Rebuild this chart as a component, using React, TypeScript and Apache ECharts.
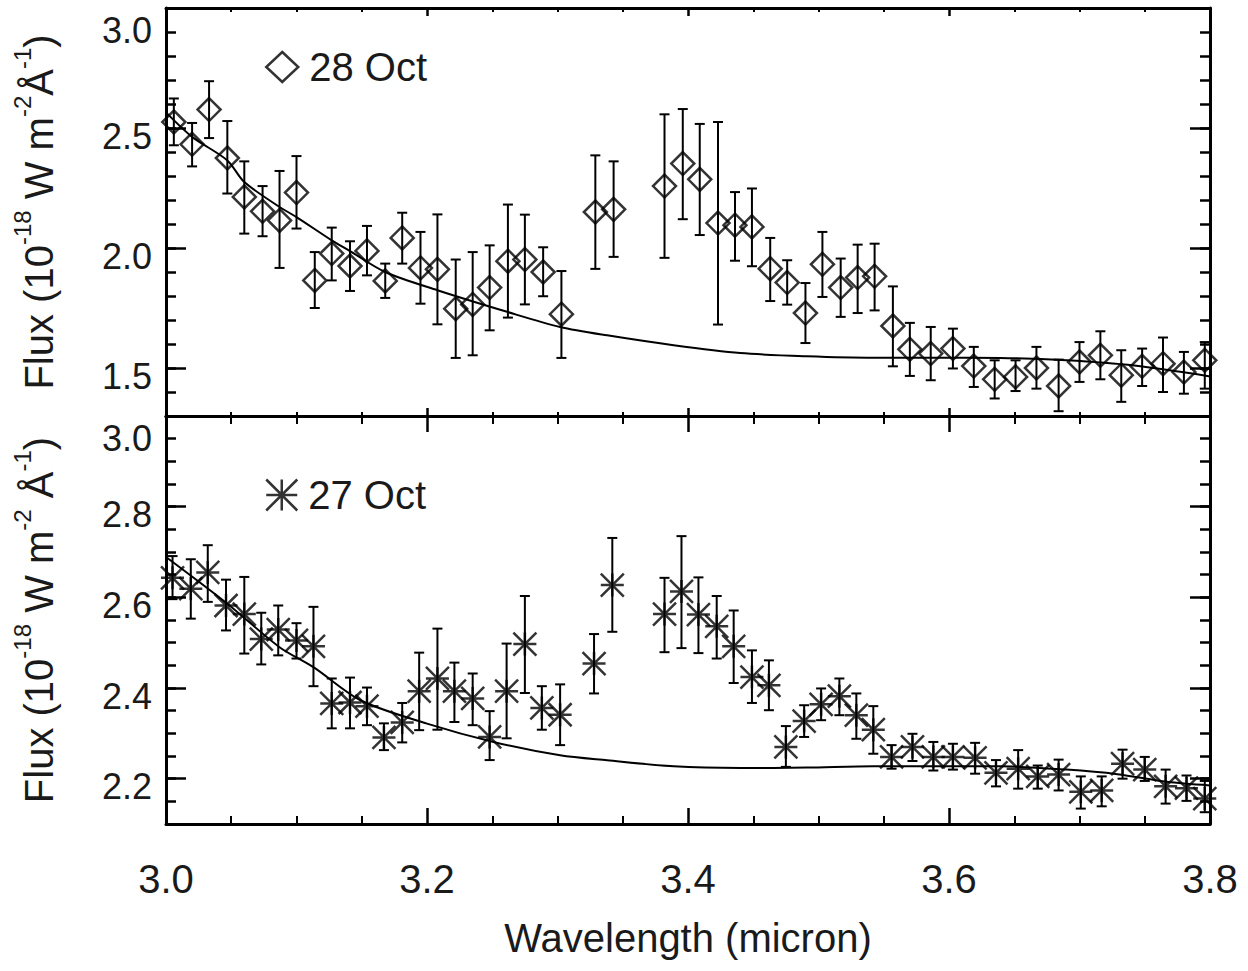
import React, { useEffect, useRef } from "react";
import * as echarts from "echarts";

// ---------- data: 28 Oct (top panel) ----------
const wl28 = [3.006, 3.020, 3.033, 3.047, 3.060, 3.074, 3.087, 3.100, 3.114, 3.127, 3.141, 3.154, 3.168, 3.181, 3.195, 3.208, 3.222, 3.235, 3.248, 3.262, 3.275, 3.289, 3.303, 3.329, 3.343, 3.382, 3.396, 3.409, 3.423, 3.436, 3.449, 3.463, 3.476, 3.490, 3.503, 3.517, 3.530, 3.543, 3.557, 3.570, 3.586, 3.603, 3.619, 3.635, 3.651, 3.667, 3.684, 3.700, 3.716, 3.732, 3.748, 3.764, 3.780, 3.796];
const flux28 = [2.525, 2.432, 2.577, 2.375, 2.213, 2.153, 2.115, 2.231, 1.865, 1.977, 1.925, 1.988, 1.863, 2.042, 1.917, 1.911, 1.747, 1.765, 1.835, 1.945, 1.952, 1.900, 1.724, 2.150, 2.161, 2.258, 2.352, 2.286, 2.104, 2.095, 2.088, 1.914, 1.856, 1.729, 1.932, 1.835, 1.877, 1.882, 1.675, 1.578, 1.560, 1.581, 1.508, 1.453, 1.463, 1.500, 1.425, 1.525, 1.553, 1.470, 1.507, 1.518, 1.483, 1.532];
const lo28 = [2.428, 2.340, 2.458, 2.227, 2.060, 2.049, 1.917, 2.081, 1.750, 1.865, 1.821, 1.886, 1.792, 1.935, 1.768, 1.682, 1.542, 1.553, 1.657, 1.710, 1.765, 1.799, 1.542, 1.913, 1.963, 1.959, 2.120, 2.054, 1.681, 1.947, 1.924, 1.779, 1.764, 1.604, 1.796, 1.713, 1.729, 1.740, 1.507, 1.467, 1.449, 1.498, 1.421, 1.373, 1.404, 1.414, 1.320, 1.442, 1.453, 1.359, 1.425, 1.400, 1.393, 1.414];
const hi28 = [2.623, 2.521, 2.695, 2.529, 2.361, 2.258, 2.321, 2.383, 1.983, 2.085, 2.028, 2.092, 1.935, 2.147, 2.067, 2.140, 1.952, 1.983, 2.011, 2.181, 2.139, 2.003, 1.904, 2.386, 2.361, 2.557, 2.579, 2.517, 2.525, 2.233, 2.248, 2.042, 1.949, 1.854, 2.067, 1.956, 2.014, 2.018, 1.840, 1.688, 1.671, 1.664, 1.588, 1.532, 1.532, 1.588, 1.535, 1.608, 1.653, 1.574, 1.581, 1.627, 1.567, 1.608];
const fitWl28 = [3.000, 3.020, 3.047, 3.060, 3.087, 3.100, 3.127, 3.141, 3.168, 3.208, 3.262, 3.302, 3.338, 3.389, 3.440, 3.491, 3.542, 3.593, 3.639, 3.690, 3.742, 3.800];
const fitFlux28 = [2.565, 2.463, 2.365, 2.275, 2.171, 2.129, 2.032, 1.987, 1.900, 1.824, 1.733, 1.671, 1.636, 1.595, 1.5625, 1.549, 1.543, 1.543, 1.542, 1.532, 1.510, 1.465];

// ---------- data: 27 Oct (bottom panel) ----------
const wl27 = [3.005, 3.019, 3.032, 3.046, 3.060, 3.073, 3.086, 3.100, 3.113, 3.127, 3.141, 3.154, 3.167, 3.181, 3.194, 3.208, 3.221, 3.235, 3.248, 3.261, 3.275, 3.288, 3.302, 3.328, 3.342, 3.382, 3.395, 3.408, 3.422, 3.435, 3.449, 3.462, 3.475, 3.489, 3.502, 3.516, 3.529, 3.542, 3.556, 3.572, 3.588, 3.603, 3.620, 3.636, 3.653, 3.668, 3.684, 3.701, 3.717, 3.733, 3.750, 3.766, 3.782, 3.796];
const flux27 = [2.643, 2.619, 2.655, 2.582, 2.563, 2.508, 2.529, 2.505, 2.492, 2.366, 2.368, 2.360, 2.291, 2.324, 2.393, 2.421, 2.393, 2.377, 2.292, 2.393, 2.497, 2.356, 2.341, 2.454, 2.627, 2.563, 2.613, 2.562, 2.536, 2.492, 2.424, 2.406, 2.270, 2.327, 2.364, 2.382, 2.340, 2.308, 2.248, 2.270, 2.248, 2.248, 2.246, 2.213, 2.222, 2.205, 2.209, 2.171, 2.174, 2.233, 2.220, 2.183, 2.179, 2.156];
const lo27 = [2.596, 2.553, 2.590, 2.527, 2.476, 2.452, 2.472, 2.465, 2.404, 2.311, 2.311, 2.318, 2.263, 2.280, 2.307, 2.308, 2.325, 2.318, 2.241, 2.289, 2.389, 2.308, 2.274, 2.388, 2.524, 2.479, 2.488, 2.477, 2.465, 2.411, 2.367, 2.351, 2.226, 2.292, 2.329, 2.340, 2.288, 2.255, 2.222, 2.239, 2.218, 2.220, 2.211, 2.183, 2.178, 2.178, 2.174, 2.134, 2.139, 2.200, 2.195, 2.145, 2.151, 2.126];
const hi27 = [2.691, 2.684, 2.715, 2.639, 2.645, 2.566, 2.582, 2.543, 2.579, 2.421, 2.423, 2.401, 2.322, 2.367, 2.478, 2.531, 2.456, 2.432, 2.349, 2.498, 2.603, 2.404, 2.408, 2.519, 2.731, 2.643, 2.735, 2.644, 2.603, 2.571, 2.483, 2.461, 2.316, 2.362, 2.399, 2.421, 2.388, 2.360, 2.274, 2.299, 2.281, 2.277, 2.279, 2.241, 2.263, 2.229, 2.242, 2.205, 2.205, 2.264, 2.248, 2.220, 2.207, 2.195];
const fitWl27 = [3.000, 3.047, 3.087, 3.113, 3.149, 3.200, 3.251, 3.302, 3.338, 3.389, 3.440, 3.491, 3.542, 3.593, 3.639, 3.690, 3.729, 3.767, 3.800];
const fitFlux27 = [2.689, 2.586, 2.490, 2.446, 2.373, 2.3215, 2.281, 2.2515, 2.2405, 2.2272, 2.2235, 2.2244, 2.2272, 2.2272, 2.2272, 2.220, 2.210, 2.193, 2.185];

// ---------- axis ticks ----------
const xMin = 3.0;
const xMax = 3.8;
const xStep = 0.2;
const yMajor28 = [1.5, 2.0, 2.5, 3.0];
const yMinor28 = [1.3, 1.4, 1.5, 1.6, 1.7, 1.8, 1.9, 2.0, 2.1, 2.2, 2.3, 2.4, 2.5, 2.6, 2.7, 2.8, 2.9, 3.0];
const yRange28 = [1.3, 3.0];
const yMajor27 = [2.2, 2.4, 2.6, 2.8, 3.0];
const yMinor27 = [2.1, 2.15, 2.2, 2.25, 2.3, 2.35, 2.4, 2.45, 2.5, 2.55, 2.6, 2.65, 2.7, 2.75, 2.8, 2.85, 2.9, 2.95, 3.0];
const yRange27 = [2.1, 3.0];

const FONT = "'Liberation Sans', Arial, Helvetica, sans-serif";
const TXT = "#1a1a1a";
const ASTERISK = "path://M10,0L10,20M0,10L20,10M0,0L20,20M0,20L20,0";

function xAxes(grid: number, labels: boolean, major: number, minor: number) {
  const base: any = {
    type: "value",
    gridIndex: grid,
    min: xMin,
    max: xMax,
    interval: xStep,
    splitLine: { show: false },
    axisLine: { show: true, onZero: false, lineStyle: { color: "#000", width: 3 } },
    axisTick: { show: true, inside: true, length: major, lineStyle: { color: "#000", width: 2.5 } },
    minorTick: { show: true, splitNumber: 4, length: minor, lineStyle: { color: "#000", width: 2 } },
  };
  return [
    {
      ...base,
      position: "bottom",
      axisLabel: {
        show: labels,
        margin: 35,
        fontSize: 40,
        fontFamily: FONT,
        color: TXT,
        formatter: (v: number) => v.toFixed(1),
      },
      name: labels ? "Wavelength (micron)" : "",
      nameLocation: "middle",
      nameGap: 94,
      nameTextStyle: { fontSize: 40, fontFamily: FONT, color: TXT },
    },
    { ...base, position: "top", axisLabel: { show: false } },
  ];
}

function yAxes(grid: number, range: number[], major: number[], minor: number[], title: string) {
  const base: any = {
    type: "value",
    gridIndex: grid,
    min: range[0],
    max: range[1],
    splitLine: { show: false },
  };
  const line = { show: true, onZero: false, lineStyle: { color: "#000", width: 3 } };
  const majorTick = { show: true, inside: true, length: 20, customValues: major, lineStyle: { color: "#000", width: 2.5 } };
  const minorTick = { show: true, inside: true, length: 10, customValues: minor, lineStyle: { color: "#000", width: 2.5 } };
  const lab = { fontSize: 36, fontFamily: FONT, color: TXT };
  return [
    {
      ...base,
      position: "left",
      axisLine: line,
      axisTick: majorTick,
      axisLabel: {
        show: true,
        customValues: major,
        margin: 14,
        ...lab,
        formatter: (v: number) => (Math.abs(v - range[1]) < 1e-6 ? "{t|" : "{n|") + v.toFixed(1) + "}",
        rich: {
          n: { ...lab, padding: [16, 0, 0, 0] },
          t: { ...lab, padding: [44, 0, 0, 0] },
        },
      },
      name: title,
      nameLocation: "middle",
      nameRotate: 90,
      nameGap: 98,
      nameTextStyle: {
        rich: {
          n: { fontSize: 40, fontFamily: FONT, color: TXT, lineHeight: 58 },
          s: { fontSize: 24, fontFamily: FONT, color: TXT, lineHeight: 20, verticalAlign: "top" },
        },
      },
    },
    { ...base, position: "left", axisLine: { show: false }, axisTick: minorTick, axisLabel: { show: false } },
    { ...base, position: "right", axisLine: line, axisTick: majorTick, axisLabel: { show: false } },
    { ...base, position: "right", axisLine: { show: false }, axisTick: minorTick, axisLabel: { show: false } },
  ];
}

function errorBars(wl: number[], lo: number[], hi: number[], xi: number, yi: number) {
  return {
    type: "custom",
    xAxisIndex: xi,
    yAxisIndex: yi,
    silent: true,
    z: 2,
    clip: true,
    encode: { x: 0, y: [1, 2] },
    data: wl.map((w, i) => [w, lo[i], hi[i]]),
    renderItem: (_p: any, api: any) => {
      const x = api.value(0);
      const a = api.coord([x, api.value(1)]);
      const b = api.coord([x, api.value(2)]);
      const cap = 5;
      const style = { stroke: "#000", lineWidth: 2 };
      return {
        type: "group",
        children: [
          { type: "line", shape: { x1: a[0], y1: a[1], x2: b[0], y2: b[1] }, style },
          { type: "line", shape: { x1: a[0] - cap, y1: a[1], x2: a[0] + cap, y2: a[1] }, style },
          { type: "line", shape: { x1: b[0] - cap, y1: b[1], x2: b[0] + cap, y2: b[1] }, style },
        ],
      };
    },
  };
}

export default function App() {
  const ref = useRef<HTMLDivElement>(null);
  useEffect(() => {
    if (!ref.current) return;
    const chart = echarts.init(ref.current, null, { renderer: "svg" });
    const hollow = { color: "transparent", borderColor: "#000", borderWidth: 2.5 };
    const legendText = { fontSize: 40, fontFamily: FONT, color: TXT, padding: [0, 0, 0, 6] };
    const option: any = {
      animation: false,
      backgroundColor: "#fff",
      grid: [
        { left: 166, right: 38, top: 8, height: 408 },
        { left: 166, right: 38, top: 416, height: 408 },
      ],
      legend: [
        {
          data: [{ name: "28 Oct", icon: "diamond" }],
          left: 265,
          top: 47,
          padding: 0,
          itemWidth: 32,
          itemHeight: 30,
          selectedMode: false,
          itemStyle: hollow,
          textStyle: legendText,
        },
        {
          data: [{ name: "27 Oct", icon: ASTERISK }],
          left: 265,
          top: 475,
          padding: 0,
          itemWidth: 31,
          itemHeight: 31,
          selectedMode: false,
          itemStyle: hollow,
          textStyle: legendText,
        },
      ],
      xAxis: [...xAxes(0, false, 8, 4), ...xAxes(1, true, 16, 8)],
      yAxis: [
        ...yAxes(0, yRange28, yMajor28, yMinor28, "{n|Flux (10}{s|-18}{n| W m}{s|-2}{n|Å}{s|-1}{n|)}"),
        ...yAxes(1, yRange27, yMajor27, yMinor27, "{n|Flux (10}{s|-18}{n| W m}{s|-2}{n| Å}{s|-1}{n|)}"),
      ],
      series: [
        errorBars(wl28, lo28, hi28, 0, 0),
        {
          type: "scatter",
          name: "28 Oct",
          xAxisIndex: 0,
          yAxisIndex: 0,
          symbol: "diamond",
          symbolSize: 23,
          itemStyle: hollow,
          z: 3,
          data: wl28.map((w, i) => [w, flux28[i]]),
        },
        {
          type: "line",
          name: "fit28",
          xAxisIndex: 0,
          yAxisIndex: 0,
          showSymbol: false,
          smooth: 0.3,
          lineStyle: { color: "#000", width: 2 },
          z: 4,
          data: fitWl28.map((w, i) => [w, fitFlux28[i]]),
        },
        errorBars(wl27, lo27, hi27, 2, 4),
        {
          type: "scatter",
          name: "27 Oct",
          xAxisIndex: 2,
          yAxisIndex: 4,
          symbol: ASTERISK,
          symbolSize: 23,
          itemStyle: hollow,
          z: 3,
          data: wl27.map((w, i) => [w, flux27[i]]),
        },
        {
          type: "line",
          name: "fit27",
          xAxisIndex: 2,
          yAxisIndex: 4,
          showSymbol: false,
          smooth: 0.3,
          lineStyle: { color: "#000", width: 2 },
          z: 4,
          data: fitWl27.map((w, i) => [w, fitFlux27[i]]),
        },
      ],
    };
    chart.setOption(option);
    return () => chart.dispose();
  }, []);
  return (
    <div
      ref={ref}
      style={{ position: "fixed", left: 0, top: 0, width: 1248, height: 971, background: "#fff" }}
    />
  );
}
